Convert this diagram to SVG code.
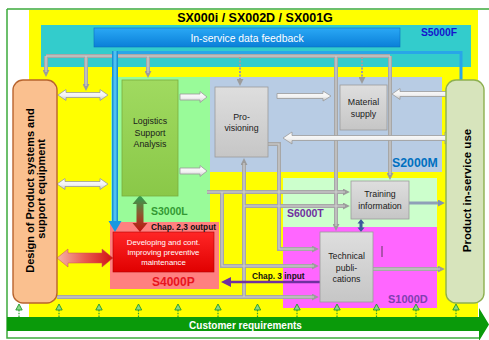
<svg xmlns="http://www.w3.org/2000/svg" width="489" height="340" viewBox="0 0 489 340">
  <defs>
    <style>
      text { font-family: "Liberation Sans", Arial, sans-serif; }
      .b { font-weight: bold; }
      .lbl { font-size: 8.8px; fill: #1a1a1a; text-anchor: middle; }
      .grey { stroke: #9c9c9c; stroke-width: 0.8; fill: url(#gGray); }
      .pipe { fill: none; stroke: #a7a7a7; stroke-width: 4; }
      .pipe-hi { fill: none; stroke: #d2d2d2; stroke-width: 1.1; }
      .arrow { marker-end: url(#mGray); }
      .dots { fill: none; stroke: #a0a0a0; stroke-width: 2; stroke-dasharray: 2 1.5; marker-end: url(#mGray); }
      .arr3d { fill: url(#gArrow); stroke: #9a9a9a; stroke-width: 0.8; }
    </style>
    <linearGradient id="gArrow" x1="0" y1="0" x2="0" y2="1">
      <stop offset="0" stop-color="#ffffff"/>
      <stop offset="0.55" stop-color="#f2f2f2"/>
      <stop offset="1" stop-color="#c6c6c6"/>
    </linearGradient>
    <linearGradient id="gVArrow" x1="0" y1="0" x2="1" y2="0">
      <stop offset="0" stop-color="#ffffff"/>
      <stop offset="1" stop-color="#cfcfcf"/>
    </linearGradient>
    <linearGradient id="gRedArrow" x1="0" y1="0" x2="1" y2="0">
      <stop offset="0" stop-color="#f6b6aa"/>
      <stop offset="0.5" stop-color="#ea5a50"/>
      <stop offset="1" stop-color="#d01212"/>
    </linearGradient>
    <linearGradient id="gGreenRed" x1="0" y1="0" x2="0" y2="1">
      <stop offset="0" stop-color="#2aa452"/>
      <stop offset="0.5" stop-color="#8a5a30"/>
      <stop offset="1" stop-color="#c41010"/>
    </linearGradient>
    <linearGradient id="gBluePipe" x1="0" y1="0" x2="1" y2="0">
      <stop offset="0" stop-color="#0a84d0"/>
      <stop offset="0.5" stop-color="#5ccdf7"/>
      <stop offset="1" stop-color="#0a84d0"/>
    </linearGradient>
    <linearGradient id="gBlueBar" x1="0" y1="0" x2="0" y2="1">
      <stop offset="0" stop-color="#2aa8f5"/>
      <stop offset="1" stop-color="#0a7fd8"/>
    </linearGradient>
    <linearGradient id="gRedBox" x1="0" y1="0" x2="0" y2="1">
      <stop offset="0" stop-color="#ff2626"/>
      <stop offset="1" stop-color="#e00000"/>
    </linearGradient>
    <linearGradient id="gGray" x1="0" y1="0" x2="0" y2="1">
      <stop offset="0" stop-color="#dedede"/>
      <stop offset="1" stop-color="#c6c6c6"/>
    </linearGradient>
    <linearGradient id="gLsa" x1="0" y1="0" x2="0" y2="1">
      <stop offset="0" stop-color="#a0da60"/>
      <stop offset="1" stop-color="#8ac848"/>
    </linearGradient>
    <marker id="mGray" viewBox="0 0 10 10" refX="3" refY="5" markerWidth="7" markerHeight="7" markerUnits="userSpaceOnUse" orient="auto">
      <path d="M0,0 L10,5 L0,10 Z" fill="#9c9c9c"/>
    </marker>
    <marker id="mSteel" viewBox="0 0 10 10" refX="3" refY="5" markerWidth="7" markerHeight="7" markerUnits="userSpaceOnUse" orient="auto">
      <path d="M0,0 L10,5 L0,10 Z" fill="#7f93b0"/>
    </marker>
    <marker id="mPurple" viewBox="0 0 10 10" refX="3" refY="5" markerWidth="10" markerHeight="10" markerUnits="userSpaceOnUse" orient="auto">
      <path d="M0,0 L10,5 L0,10 Z" fill="#7030a0"/>
    </marker>
    <!-- pipe routes, drawn twice (body + highlight) -->
    <path id="pTrunk" d="M46,56 H390"/>
    <path id="pD1" d="M46,56 V72"/>
    <path id="pD2" d="M86,56 V86"/>
    <path id="pD3" d="M148,56 V73"/>
    <path id="pD5" d="M336,56 V226"/>
    <path id="pD7" d="M390,56 V175"/>
    <path id="pProv" d="M268,144 H279 V249 H314"/>
    <path id="pBottom" d="M57,297 H314"/>
    <path id="pUp" d="M244,297 V163"/>
    <path id="p206" d="M244,206 H345"/>
    <path id="p192" d="M207,192 H345"/>
    <path id="pL" d="M222,192 V266 H314"/>
    <path id="pTech" d="M373,269 H440"/>
    <!-- small upward requirement arrow -->
    <g id="req">
      <path d="M0,310 V317" stroke="#2e9e2e" stroke-width="1.2" stroke-dasharray="1.5 1.2"/>
      <path d="M0,304 L3.2,310 L-3.2,310 Z" fill="#8ad88a" stroke="#22992a" stroke-width="0.9"/>
    </g>
  </defs>

  <rect width="489" height="340" fill="#ffffff"/>

  <!-- frame and background areas -->
  <g id="frame">
    <rect x="29" y="10" width="449" height="307" fill="#ffff00"/>
    <path d="M7,9 H489 M7,9 V338 H479" fill="none" stroke="#3daa3d" stroke-width="1.5"/>
  </g>

  <g id="S5000F">
    <rect x="41" y="25" width="430" height="42" fill="#33cccc"/>
    <text x="421" y="36" class="b" font-size="10.3" fill="#1515cc">S5000F</text>
  </g>

  <g id="S3000L">
    <rect x="111" y="77" width="99" height="145" fill="#99fb99"/>
    <text x="151" y="215" class="b" font-size="10.5" fill="#339933">S3000L</text>
  </g>
  <g id="S2000M">
    <rect x="210" y="77" width="232" height="95" fill="#b8cce4"/>
    <text x="392" y="167" class="b" font-size="12.3" fill="#0070c0">S2000M</text>
  </g>
  <g id="S6000T">
    <rect x="283" y="178" width="154" height="49" fill="#ccffcc"/>
    <text x="287" y="217" class="b" font-size="10.5" fill="#7030a0">S6000T</text>
  </g>
  <g id="S1000D">
    <rect x="283" y="227" width="154" height="81" fill="#ff66ff"/>
    <text x="388" y="303" class="b" font-size="11" fill="#7f3fb0">S1000D</text>
  </g>
  <g id="S4000P">
    <rect x="110" y="222" width="109" height="67" fill="#ff8080"/>
    <text x="152" y="286" class="b" font-size="12" fill="#e8141e">S4000P</text>
  </g>

  <g id="title">
    <text x="255" y="22" class="b" font-size="12.5" text-anchor="middle" fill="#000">SX000i / SX002D / SX001G</text>
  </g>

  <g id="feedback">
    <rect x="94" y="28" width="306" height="19" fill="url(#gBlueBar)" stroke="#0a6ebe" stroke-width="0.6"/>
    <text x="247" y="42" font-size="10.4" text-anchor="middle" fill="#ffffff">In-service data feedback</text>
  </g>

  <!-- connectors -->
  <g id="connectors">
    <use href="#pTrunk" class="pipe"/>
    <use href="#pD1" class="pipe arrow"/>
    <use href="#pD2" class="pipe arrow"/>
    <use href="#pD3" class="pipe arrow"/>
    <use href="#pD5" class="pipe arrow"/>
    <use href="#pD7" class="pipe arrow"/>
    <use href="#pProv" class="pipe arrow"/>
    <use href="#pBottom" class="pipe arrow"/>
    <use href="#pUp" class="pipe arrow"/>
    <use href="#p206" class="pipe arrow"/>
    <use href="#p192" class="pipe arrow"/>
    <use href="#pL" class="pipe arrow"/>
    <use href="#pTech" class="pipe arrow"/>
    <use href="#pTrunk" class="pipe-hi"/>
    <use href="#pD1" class="pipe-hi"/>
    <use href="#pD2" class="pipe-hi"/>
    <use href="#pD3" class="pipe-hi"/>
    <use href="#pD5" class="pipe-hi"/>
    <use href="#pD7" class="pipe-hi"/>
    <use href="#pProv" class="pipe-hi"/>
    <use href="#pBottom" class="pipe-hi"/>
    <use href="#pUp" class="pipe-hi"/>
    <use href="#p206" class="pipe-hi"/>
    <use href="#p192" class="pipe-hi"/>
    <use href="#pL" class="pipe-hi"/>
    <use href="#pTech" class="pipe-hi"/>
    <path class="dots" d="M240,57 V81"/>
    <path class="dots" d="M362,57 V79"/>
    <!-- training information to product use -->
    <path d="M409,203 H440" fill="none" stroke="#8fa0b8" stroke-width="3" marker-end="url(#mSteel)"/>
    <!-- training information <-> technical publications -->
    <path d="M361,219 L364.5,223.5 L362.5,223.5 L362.5,227.5 L364.5,227.5 L361,232 L357.5,227.5 L359.5,227.5 L359.5,223.5 L357.5,223.5 Z" fill="#3a5a9a"/>
    <!-- chapter 3 input -->
    <path d="M320,282 H228" fill="none" stroke="#7030a0" stroke-width="2.5" marker-end="url(#mPurple)"/>
    <!-- feedback pipe (blue) -->
    <path d="M115,52.5 H461 V80" fill="none" stroke="#28a6e8" stroke-width="3"/>
    <rect x="112" y="51" width="6" height="171" fill="url(#gBluePipe)"/>
    <path d="M108.5,221 H121.5 L115,232 Z" fill="#1a98e0"/>
    <!-- 3D block arrows -->
    <path class="arr3d" d="M58,95 L66,89.5 L66,92.5 L100,92.5 L100,89.5 L108,95 L100,100.5 L100,97.5 L66,97.5 L66,100.5 Z"/>
    <path class="arr3d" d="M57,184 L65,178.5 L65,181.5 L100,181.5 L100,178.5 L108,184 L100,189.5 L100,186.5 L65,186.5 L65,189.5 Z"/>
    <path class="arr3d" d="M180,94 L200,94 L200,91.5 L207,97 L200,102.5 L200,100 L180,100 Z"/>
    <path class="arr3d" d="M180,168 L200,168 L200,165.5 L207,171 L200,176.5 L200,174 L180,174 Z"/>
    <path class="arr3d" d="M277,93.5 L323,93.5 L323,91 L331,96 L323,101 L323,98.5 L277,98.5 Z"/>
    <path class="arr3d" d="M392,94 L400,88.5 L400,91.5 L446,91.5 L446,88.5 L454,94 L446,99.5 L446,96.5 L400,96.5 L400,99.5 Z"/>
    <path class="arr3d" d="M283,138 L292,132 L292,135.5 L445,135.5 L445,132 L454,138 L445,144 L445,140.5 L292,140.5 L292,144 Z"/>
    <path d="M57,258 L68,249 L68,253 L102,253 L102,249 L113,258 L102,267 L102,263 L68,263 L68,267 Z" fill="url(#gRedArrow)" stroke="#c85050" stroke-width="0.5"/>
    <path d="M140,195 L147.5,204 L143.5,204 L143.5,223 L147.5,223 L140,232 L132.5,223 L136.5,223 L136.5,204 L132.5,204 Z" fill="url(#gGreenRed)"/>
  </g>

  <!-- nodes -->
  <g id="design">
    <rect x="13" y="80" width="44" height="223" rx="10" fill="#fac08f" stroke="#b8642e" stroke-width="1.4"/>
    <text transform="translate(33.5,189) rotate(-90)" class="b" font-size="11" text-anchor="middle" fill="#000">
      <tspan x="0" y="0">Design of Product systems and</tspan>
      <tspan x="0" y="11.5">support equipment</tspan>
    </text>
  </g>

  <g id="product-use">
    <rect x="446" y="80" width="38" height="223" rx="10" fill="#d7e4bc" stroke="#8eb050" stroke-width="1.4"/>
    <text transform="translate(471,190.5) rotate(-90)" class="b" font-size="11.5" text-anchor="middle" fill="#000">Product in-service use</text>
  </g>

  <g id="lsa">
    <rect x="122" y="80" width="56" height="116" fill="url(#gLsa)" stroke="#78ac3e" stroke-width="0.8"/>
    <text class="lbl" x="150" y="124">Logistics</text>
    <text class="lbl" x="150" y="135.5">Support</text>
    <text class="lbl" x="150" y="147">Analysis</text>
  </g>

  <g id="provisioning">
    <rect class="grey" x="215" y="87" width="53" height="70"/>
    <text class="lbl" x="241.5" y="120" font-size="8.6">Pro-</text>
    <text class="lbl" x="241.5" y="131" font-size="8.6">visioning</text>
  </g>

  <g id="material-supply">
    <rect class="grey" x="340" y="85" width="47" height="45"/>
    <text class="lbl" x="363.5" y="105">Material</text>
    <text class="lbl" x="363.5" y="116.5">supply</text>
  </g>

  <g id="training">
    <rect class="grey" x="351" y="181" width="58" height="38"/>
    <text class="lbl" x="380" y="197">Training</text>
    <text class="lbl" x="380" y="209">information</text>
  </g>

  <g id="tech-pubs">
    <rect class="grey" x="320" y="232" width="53" height="70"/>
    <text class="lbl" x="346.5" y="259" font-size="8.6">Technical</text>
    <text class="lbl" x="346.5" y="270.5" font-size="8.6">publi-</text>
    <text class="lbl" x="346.5" y="282" font-size="8.6">cations</text>
    <line x1="382" y1="246" x2="382" y2="257" stroke="#333" stroke-width="0.8"/>
  </g>

  <g id="maintenance">
    <rect x="113" y="232" width="101" height="40" fill="url(#gRedBox)" stroke="#b00000" stroke-width="0.6"/>
    <text x="163.5" y="245" font-size="7.8" text-anchor="middle" fill="#ffffff">Developing and cont.</text>
    <text x="163.5" y="255" font-size="7.8" text-anchor="middle" fill="#ffffff">improving preventive</text>
    <text x="163.5" y="264.5" font-size="7.8" text-anchor="middle" fill="#ffffff">maintenance</text>
  </g>

  <g id="chapter-labels">
    <text x="151" y="230" class="b" font-size="8.3" fill="#111">Chap. 2,3 output</text>
    <text x="252" y="279" class="b" font-size="8.3" fill="#111">Chap. 3 input</text>
  </g>

  <g id="requirements">
    <use href="#req" x="19"/>
    <use href="#req" x="59"/>
    <use href="#req" x="99"/>
    <use href="#req" x="138.5"/>
    <use href="#req" x="178"/>
    <use href="#req" x="218"/>
    <use href="#req" x="257.5"/>
    <use href="#req" x="297"/>
    <use href="#req" x="337"/>
    <use href="#req" x="376.5"/>
    <use href="#req" x="416"/>
    <use href="#req" x="456"/>
    <path d="M7,317 H479 V308 L489,324.5 L479,341 V331 H7 Z" fill="#0a9a0a"/>
    <text x="245.5" y="328.5" class="b" font-size="10" text-anchor="middle" fill="#ffffff">Customer requirements</text>
  </g>
</svg>
